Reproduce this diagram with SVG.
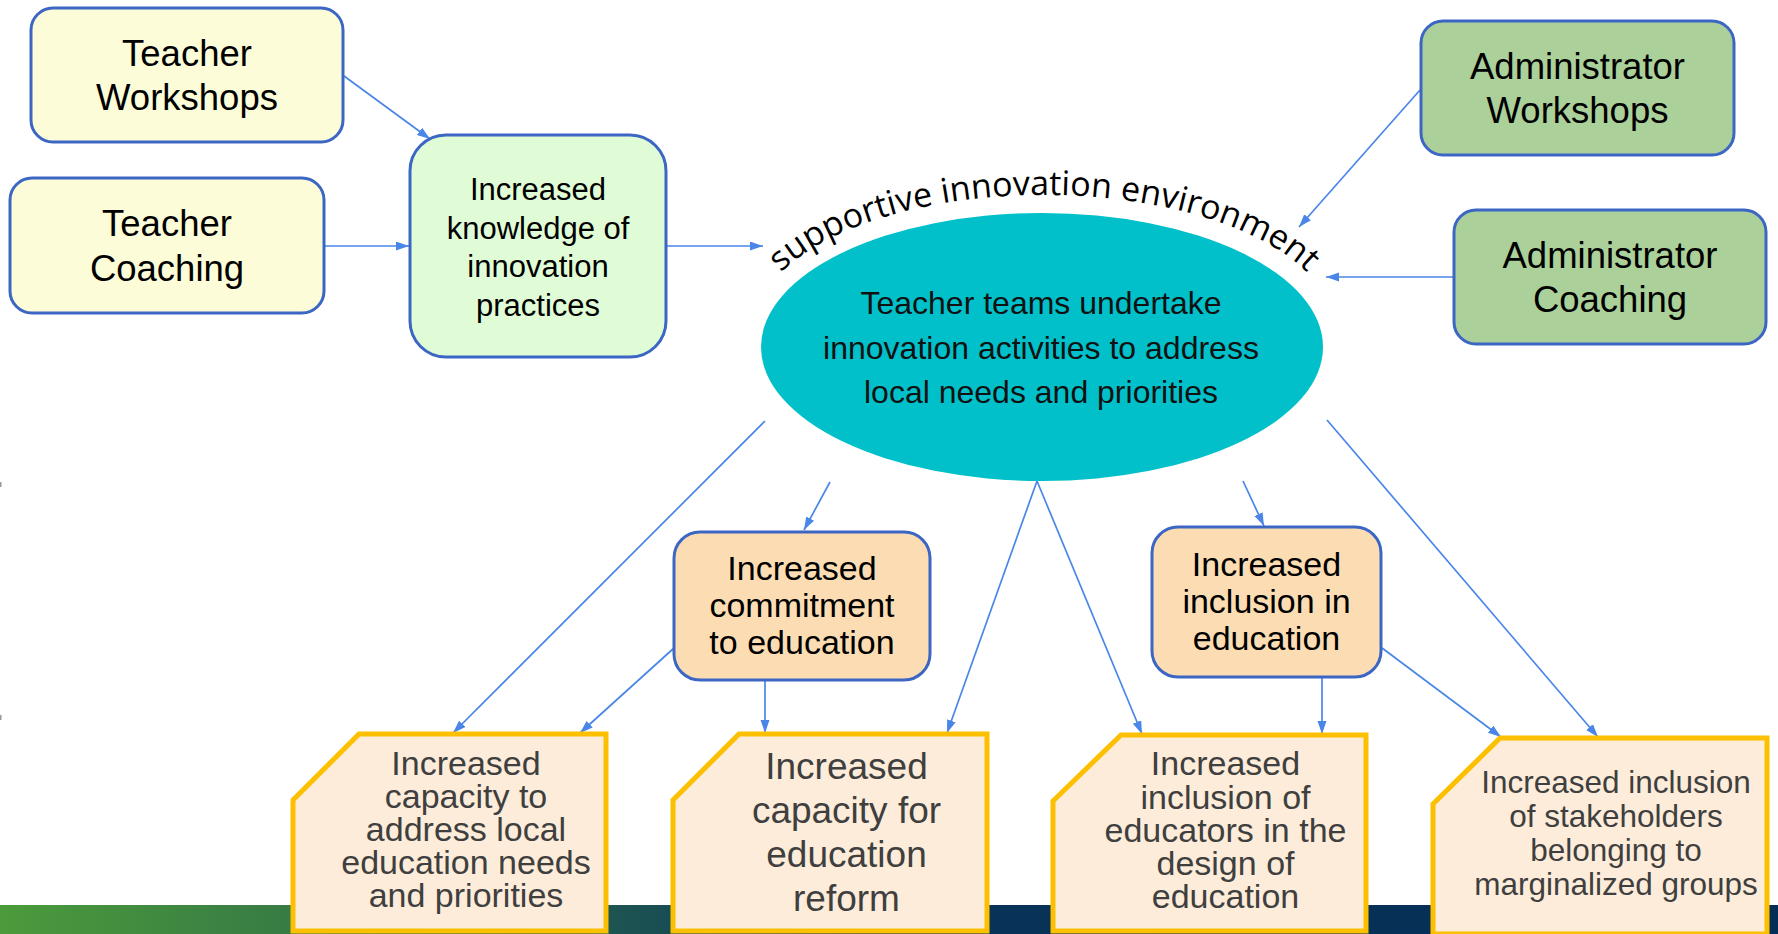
<svg xmlns="http://www.w3.org/2000/svg" width="1778" height="934" viewBox="0 0 1778 934">
<defs>
  <linearGradient id="band" x1="0" y1="0" x2="1778" y2="0" gradientUnits="userSpaceOnUse">
    <stop offset="0" stop-color="#4b9b3b"/>
    <stop offset="0.17" stop-color="#367a45"/>
    <stop offset="0.34" stop-color="#1e5652"/>
    <stop offset="0.48" stop-color="#0a3358"/>
    <stop offset="1" stop-color="#052e57"/>
  </linearGradient>
  <marker id="arr" markerUnits="userSpaceOnUse" markerWidth="14" markerHeight="10" refX="13" refY="4.5" orient="auto">
    <path d="M0,0 L13,4.5 L0,9 Z" fill="#4a86e8"/>
  </marker>
  <path id="arc" d="M 770,285 A 290,134 0 0 1 1318,285"/>
  <style>
    .conn line { stroke: #4a86e8; stroke-width: 1.7; fill: none; marker-end: url(#arr); }
    .box { stroke: #3c66c4; stroke-width: 3; }
    .yel { fill: #fcfcd8; }
    .lgreen { fill: #e0fcd6; }
    .admin { fill: #abd09a; }
    .peach { fill: #fcddb3; }
    .out { fill: #fdecd9; stroke: #fcc000; stroke-width: 5; stroke-linejoin: miter; }
    text { font-family: "Liberation Sans", Arial, sans-serif; text-anchor: middle; fill: #000; }
    .t36 { font-size: 36.5px; }
    .t31 { font-size: 31px; }
    .t32 { font-size: 32px; fill: #111; }
    .t34 { font-size: 34px; }
    .o34 { font-size: 34px; fill: #3f3f3f; }
    .o37 { font-size: 37px; fill: #3f3f3f; }
    .o31 { font-size: 31.5px; fill: #3f3f3f; }
    .curve { font-family: "Open Sans", "Liberation Sans", sans-serif; font-size: 34px; fill: #000; }
  </style>
</defs>
<rect x="0" y="0" width="1778" height="934" fill="#ffffff"/>
<rect x="0" y="905" width="1778" height="29" fill="url(#band)"/>
<rect x="0" y="482" width="1.5" height="5" fill="#9a9a9a"/>
<rect x="0" y="715" width="1.5" height="5" fill="#9a9a9a"/>

<g id="connectors" class="conn">
  <line x1="344" y1="76" x2="430" y2="139"/>
  <line x1="324" y1="246" x2="409" y2="246"/>
  <line x1="666" y1="246" x2="763" y2="246"/>
  <line x1="1420" y1="90" x2="1299" y2="227"/>
  <line x1="1454" y1="277" x2="1326" y2="277"/>
  <line x1="765" y1="421" x2="453" y2="733"/>
  <line x1="674" y1="648" x2="580" y2="733"/>
  <line x1="830" y1="482" x2="804" y2="530"/>
  <line x1="765" y1="681" x2="765" y2="733"/>
  <line x1="1037" y1="481" x2="947" y2="733"/>
  <line x1="1037" y1="481" x2="1142" y2="734"/>
  <line x1="1243" y1="481" x2="1264" y2="526"/>
  <line x1="1322" y1="677" x2="1322" y2="734"/>
  <line x1="1382" y1="648" x2="1501" y2="737"/>
  <line x1="1327" y1="420" x2="1598" y2="737"/>
</g>

<g id="teacher-workshops">
  <rect class="box yel" x="31" y="8" width="312" height="134" rx="22"/>
  <text class="t36" x="187" y="65.7">Teacher</text>
  <text class="t36" x="187" y="110.2">Workshops</text>
</g>
<g id="teacher-coaching">
  <rect class="box yel" x="10" y="178" width="314" height="135" rx="22"/>
  <text class="t36" x="167" y="236">Teacher</text>
  <text class="t36" x="167" y="280.5">Coaching</text>
</g>
<g id="knowledge">
  <rect class="box lgreen" x="410" y="135" width="256" height="222" rx="36"/>
  <text class="t31" x="538" y="200">Increased</text>
  <text class="t31" x="538" y="238.5">knowledge of</text>
  <text class="t31" x="538" y="277">innovation</text>
  <text class="t31" x="538" y="315.5">practices</text>
</g>
<g id="admin-workshops">
  <rect class="box admin" x="1421" y="21" width="313" height="134" rx="22"/>
  <text class="t36" x="1577.5" y="78.7">Administrator</text>
  <text class="t36" x="1577.5" y="123.2">Workshops</text>
</g>
<g id="admin-coaching">
  <rect class="box admin" x="1454" y="210" width="312" height="134" rx="22"/>
  <text class="t36" x="1610" y="267.7">Administrator</text>
  <text class="t36" x="1610" y="312.2">Coaching</text>
</g>
<g id="teacher-teams">
  <ellipse cx="1042" cy="347" rx="281" ry="134" fill="#02c0c9"/>
  <text class="curve"><textPath href="#arc" startOffset="50%">supportive innovation environment</textPath></text>
  <text class="t32" x="1041" y="314">Teacher teams undertake</text>
  <text class="t32" x="1041" y="358.5">innovation activities to address</text>
  <text class="t32" x="1041" y="403">local needs and priorities</text>
</g>
<g id="commitment">
  <rect class="box peach" x="674" y="532" width="256" height="148" rx="26"/>
  <text class="t34" x="802" y="580">Increased</text>
  <text class="t34" x="802" y="617">commitment</text>
  <text class="t34" x="802" y="654">to education</text>
</g>
<g id="inclusion">
  <rect class="box peach" x="1152" y="527" width="229" height="150" rx="26"/>
  <text class="t34" x="1266.5" y="576">Increased</text>
  <text class="t34" x="1266.5" y="613">inclusion in</text>
  <text class="t34" x="1266.5" y="650">education</text>
</g>
<g id="capacity-local">
  <polygon class="out" points="359,734 606,734 606,931 293,931 293,800"/>
  <text class="o34" x="466" y="775">Increased</text>
  <text class="o34" x="466" y="808">capacity to</text>
  <text class="o34" x="466" y="841">address local</text>
  <text class="o34" x="466" y="874">education needs</text>
  <text class="o34" x="466" y="907">and priorities</text>
</g>
<g id="capacity-reform">
  <polygon class="out" points="739,734 987,734 987,931 673,931 673,800"/>
  <text class="o37" x="846.5" y="778.5">Increased</text>
  <text class="o37" x="846.5" y="822.5">capacity for</text>
  <text class="o37" x="846.5" y="866.5">education</text>
  <text class="o37" x="846.5" y="911">reform</text>
</g>
<g id="inclusion-educators">
  <polygon class="out" points="1121,735 1366,735 1366,931 1053,931 1053,801"/>
  <text class="o34" x="1225.5" y="775">Increased</text>
  <text class="o34" x="1225.5" y="808.5">inclusion of</text>
  <text class="o34" x="1225.5" y="842">educators in the</text>
  <text class="o34" x="1225.5" y="875">design of</text>
  <text class="o34" x="1225.5" y="907.5">education</text>
</g>
<g id="inclusion-stakeholders">
  <polygon class="out" points="1500,738 1767,738 1767,934 1433,934 1433,804"/>
  <text class="o31" x="1616" y="793">Increased inclusion</text>
  <text class="o31" x="1616" y="827">of stakeholders</text>
  <text class="o31" x="1616" y="861">belonging to</text>
  <text class="o31" x="1616" y="895">marginalized groups</text>
</g>
</svg>
